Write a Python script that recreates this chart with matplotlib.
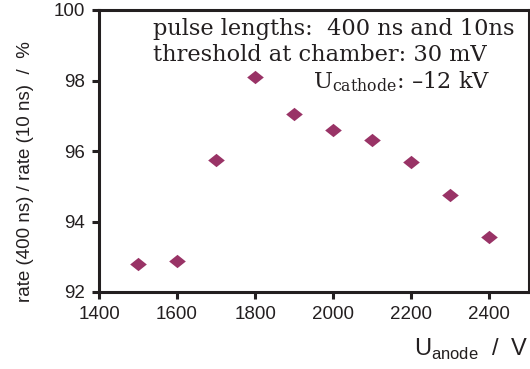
import matplotlib
matplotlib.use("Agg")
import matplotlib.pyplot as plt

u_anode = [1500, 1600, 1700, 1800, 1900, 2000, 2100, 2200, 2300, 2400]
ratio = [92.80, 92.88, 95.74, 98.10, 97.05, 96.60, 96.31, 95.69, 94.75, 93.56]
x_ticks = [1400, 1600, 1800, 2000, 2200, 2400]
y_ticks = [92, 94, 96, 98, 100]

fig = plt.figure(figsize=(5.3, 3.69), dpi=100)
ax = fig.add_axes([99/530, 1-292/369, 430/530, 282/369])

diamond = [(-1.25, 0), (0, 1), (1.25, 0), (0, -1), (-1.25, 0)]
ax.plot(u_anode, ratio, linestyle="none", marker=diamond, markersize=12,
        color="#993366", markeredgewidth=0)

ax.set_xlim(1400, 2502)
ax.set_ylim(92, 100)
ax.set_xticks(x_ticks)
ax.set_yticks(y_ticks)
for s in ax.spines.values():
    s.set_linewidth(2.2)
    s.set_color("#231f20")
ax.tick_params(direction="out", length=5, width=2.2, color="#231f20",
               labelsize=13.5, labelcolor="#231f20", pad=5)
for lab in ax.get_xticklabels() + ax.get_yticklabels():
    lab.set_fontfamily("Liberation Sans")

fig.text(25/530, 1-172/369, "rate (400 ns) / rate (10 ns)  /  %", fontsize=13.5,
         family="Liberation Sans", color="#231f20", rotation=90,
         ha="center", va="center")
fig.text(0.998, 0.035, r"U$_{\mathregular{anode}}$  /  V", ha="right", va="baseline",
         fontsize=17, family="Liberation Sans", color="#231f20")

serif = "DejaVu Serif"
fs = 16.2
ax.text(153/530, 1-35/369, "pulse lengths:  400 ns and 10ns", transform=fig.transFigure,
        fontsize=fs, family=serif, color="#231f20", va="baseline")
ax.text(153/530, 1-61/369, "threshold at chamber: 30 mV", transform=fig.transFigure,
        fontsize=fs, family=serif, color="#231f20", va="baseline")
ax.text(490/530, 1-88/369, "U$_{\\mathregular{cathode}}$: \u201312 kV",
        transform=fig.transFigure,
        fontsize=fs, family=serif, color="#231f20", va="baseline", ha="right")

fig.savefig("out.png", dpi=100)
